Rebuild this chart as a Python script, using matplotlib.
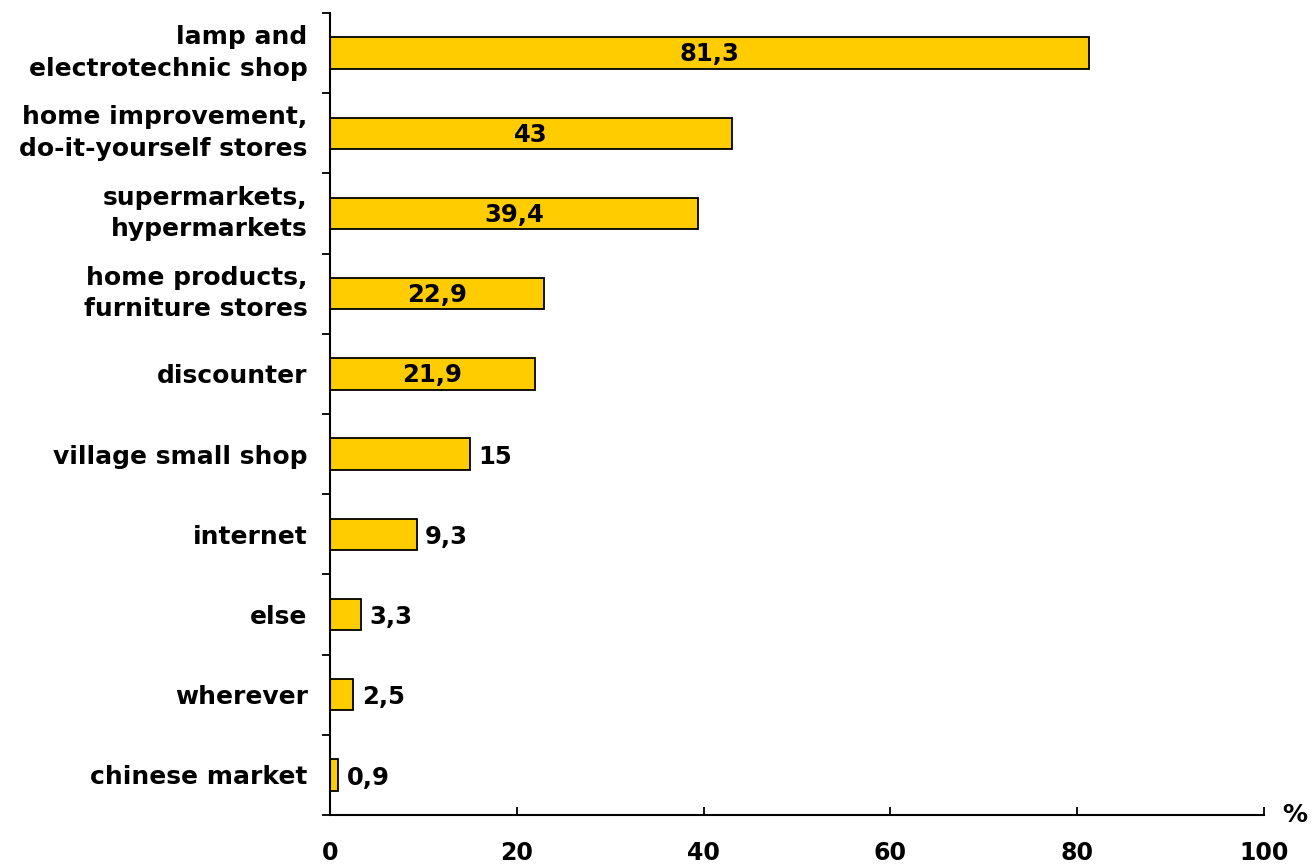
import numpy as np
import matplotlib
matplotlib.use('Agg')
import matplotlib.pyplot as plt
from matplotlib.ticker import FixedLocator

plt.rcParams.update({
    'font.family': 'DejaVu Sans',
    'font.weight': 'bold',
    'font.size': 18,
})

# Where lamps are bought (%), top to bottom
categories = [
    'lamp and\nelectrotechnic shop',
    'home improvement,\ndo-it-yourself stores',
    'supermarkets,\nhypermarkets',
    'home products,\nfurniture stores',
    'discounter',
    'village small shop',
    'internet',
    'else',
    'wherever',
    'chinese market',
]
values = [81.3, 43, 39.4, 22.9, 21.9, 15, 9.3, 3.3, 2.5, 0.9]
value_labels = ['81,3', '43', '39,4', '22,9', '21,9', '15', '9,3', '3,3', '2,5', '0,9']
x_ticks = [0, 20, 40, 60, 80, 100]

BAR_COLOR = '#FFCC00'
INSIDE_MIN = 20  # bars longer than this get the label centred inside

fig = plt.figure(figsize=(13.14, 8.66), dpi=100)
ax = fig.add_axes([0.2511, 0.0589, 0.962 - 0.2511, 0.985 - 0.0589])

y = np.arange(len(categories))
ax.barh(y, values, height=0.39, color=BAR_COLOR, edgecolor='black', linewidth=1.3)

for yi, v, lab in zip(y, values, value_labels):
    if v > INSIDE_MIN:
        ax.annotate(lab, (v / 2, yi), xytext=(0, -1), textcoords='offset points',
                    ha='center', va='center', fontsize=17.5, fontweight='bold')
    else:
        ax.annotate(lab, (v, yi), xytext=(6, -2), textcoords='offset points',
                    ha='left', va='center', fontsize=17.5, fontweight='bold')

ax.set_xlim(0, 100)
ax.set_ylim(len(categories) - 0.5, -0.5)

ax.set_xticks(x_ticks)
ax.set_xticklabels([str(t) for t in x_ticks])
ax.tick_params(axis='x', direction='in', length=6, width=1.3, pad=19, labelsize=17)

ax.set_yticks(y)
ax.set_yticklabels(categories, ha='right', linespacing=1.4)
for lbl in ax.get_yticklabels():
    if '\n' in lbl.get_text():
        lbl.set_verticalalignment('center')
ax.tick_params(axis='y', which='major', length=0, pad=16, labelsize=18)
ax.yaxis.set_minor_locator(FixedLocator(np.arange(-0.5, len(categories), 1.0)))
ax.tick_params(axis='y', which='minor', direction='out', length=6, width=1.3)

for side in ['top', 'right']:
    ax.spines[side].set_visible(False)
for side in ['left', 'bottom']:
    ax.spines[side].set_linewidth(1.5)

ax.text(1.019, 0.0, '%', transform=ax.transAxes, ha='left', va='center',
        fontsize=18, fontweight='bold')

fig.savefig('out.png', dpi=100)
